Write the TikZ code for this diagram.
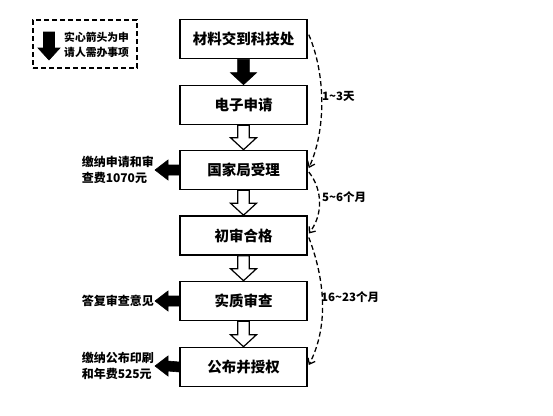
\documentclass[tikz,border=0pt]{standalone}
\usepackage{fontspec}
\setmainfont{Noto Sans CJK SC}
\usetikzlibrary{calc,arrows.meta}
\tikzset{
  box/.style={draw=black, line width=1.6pt, minimum width=127pt, minimum height=39pt, inner sep=0pt, font=\fontsize{14.5}{16}\selectfont\bfseries},
  lbl/.style={font=\fontsize{12}{16.5}\selectfont\bfseries, align=left, inner sep=0pt},
  dur/.style={font=\fontsize{11.5}{13}\selectfont\bfseries, inner sep=0pt, anchor=west},
  curv/.style={draw=black, line width=1.3pt, dash pattern=on 5pt off 3pt, -{Straight Barb[length=5pt,width=8pt]}},
  solidarr/.style={fill=black, draw=black, line width=0.6pt},
  hollowarr/.style={fill=white, draw=black, line width=1.2pt},
}
\newcommand\blkdown[3]{\path[#3] ($(#1.south)+(-5.8,0)$) -- ($(#2.north)+(-5.8,-12)$) -- ($(#2.north)+(-13,-12)$) -- (#2.north) -- ($(#2.north)+(13,-12)$) -- ($(#2.north)+(5.8,-12)$) -- ($(#1.south)+(5.8,0)$) -- cycle;}
\newcommand\blkleft[2]{\path[solidarr] ($(#1.west)+(0,-5)$) -- ($(#2.east)+(14,-5)$) -- ($(#2.east)+(14,-10)$) -- ($(#2.east)+(1,0)$) -- ($(#2.east)+(14,10)$) -- ($(#2.east)+(14,5)$) -- ($(#1.west)+(0,5)$) -- cycle;}
\begin{document}
\begin{tikzpicture}[x=1pt,y=-1pt]
\useasboundingbox (0,0) rectangle (553,415);
% legend
\node[draw=black, line width=1.4pt, dash pattern=on 5pt off 3pt, minimum width=104pt, minimum height=48pt, inner sep=0pt] (leg) at (85,44) {};
\coordinate (legtop) at (49,32);
\coordinate (legtip) at (49,60);
\path[solidarr] ($(legtop)+(-5.5,0)$) -- ($(legtip)+(-5.5,-12)$) -- ($(legtip)+(-11,-12)$) -- (legtip) -- ($(legtip)+(11,-12)$) -- ($(legtip)+(5.5,-12)$) -- ($(legtop)+(5.5,0)$) -- cycle;
\node[font=\fontsize{10.8}{15.5}\selectfont\bfseries, align=left, inner sep=0pt, anchor=west] (legtxt) at (64,45) {实心箭头为申\\请人需办事项};
% boxes
\node[box] (b1) at (243.5,39) {材料交到科技处};
\node[box] (b2) at (243.5,105) {电子申请};
\node[box] (b3) at (243.5,170) {国家局受理};
\node[box] (b4) at (243.5,235.5) {初审合格};
\node[box] (b5) at (243.5,301) {实质审查};
\node[box] (b6) at (243.5,367) {公布并授权};
% down arrows
\blkdown{b1}{b2}{solidarr}
\blkdown{b2}{b3}{hollowarr}
\blkdown{b3}{b4}{hollowarr}
\blkdown{b4}{b5}{hollowarr}
\blkdown{b5}{b6}{hollowarr}
% left labels and arrows
\node[lbl, anchor=east] (f3) at (154,170) {缴纳申请和审\\查费1070元};
\node[lbl, anchor=east] (f5) at (154,301) {答复审查意见};
\node[lbl, anchor=east] (f6) at (154,366) {缴纳公布印刷\\和年费525元};
\blkleft{b3}{f3}
\blkleft{b5}{f5}
\blkleft{b6}{f6}
% durations
\draw[curv] ($(b1.north east)+(1,16)$) .. controls (326,75) and (326,130) .. ($(b3.east)+(1,-2)$);
\draw[curv] ($(b3.east)+(1,2)$) .. controls (323,190) and (323,215) .. ($(b4.east)+(1,-2)$);
\draw[curv] ($(b4.east)+(1,2)$) .. controls (327,285) and (327,330) .. ($(b6.east)+(1,-2)$);
\node[dur] (d1) at (322,96) {1\textasciitilde 3天};
\node[dur] (d2) at (322,197) {5\textasciitilde 6个月};
\node[dur] (d3) at (321,297) {16\textasciitilde 23个月};
\end{tikzpicture}
\end{document}
